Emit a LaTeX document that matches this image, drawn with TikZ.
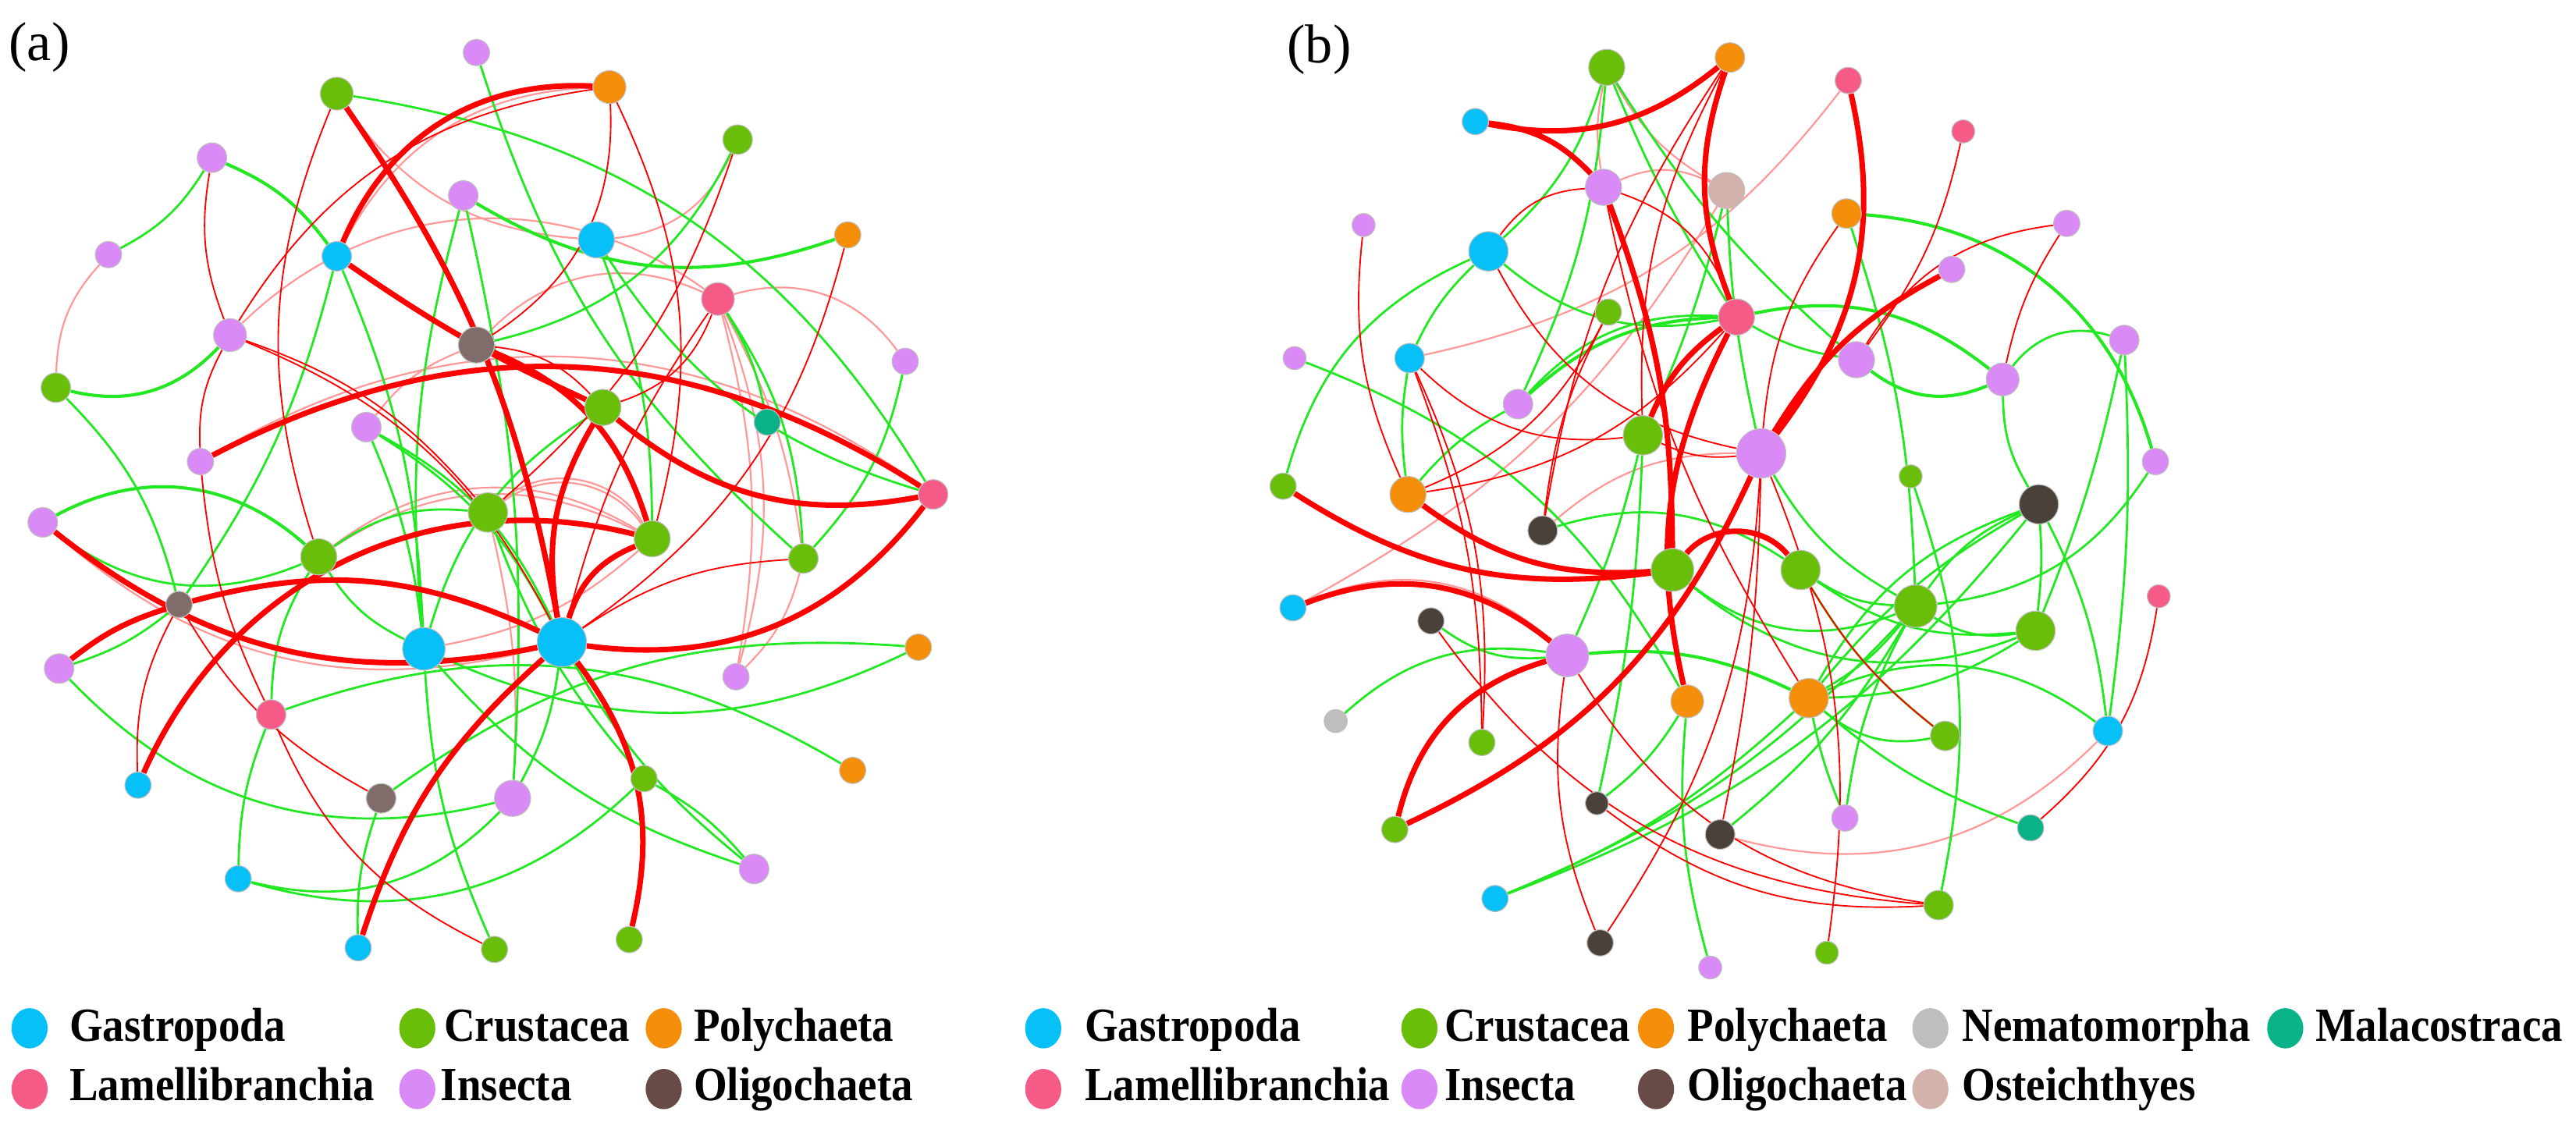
\documentclass[tikz,border=0pt]{standalone}
\usepackage{fontspec}
\setmainfont{Liberation Serif}
\newfontfamily\legfont{Liberation Serif}[FakeStretch=0.9]
\usetikzlibrary{backgrounds,shapes.geometric}
\definecolor{cGas}{RGB}{8,192,248}
\definecolor{cCru}{RGB}{104,190,8}
\definecolor{cPol}{RGB}{245,142,8}
\definecolor{cLam}{RGB}{246,90,135}
\definecolor{cIns}{RGB}{218,138,246}
\definecolor{cOliA}{RGB}{128,108,106}
\definecolor{cOliB}{RGB}{74,66,58}
\definecolor{cOliL}{RGB}{104,74,70}
\definecolor{cNem}{RGB}{190,190,190}
\definecolor{cMal}{RGB}{10,178,138}
\definecolor{cOst}{RGB}{212,178,172}
\definecolor{cRed}{RGB}{255,0,0}
\definecolor{cGrn}{RGB}{34,232,34}

\tikzset{
  nd/.style={circle, inner sep=0pt, draw=black!25, line width=0.3pt},
  gas/.style={nd, fill=cGas, minimum size=#1*0.4mm},
  cru/.style={nd, fill=cCru, minimum size=#1*0.4mm},
  pol/.style={nd, fill=cPol, minimum size=#1*0.4mm},
  lam/.style={nd, fill=cLam, minimum size=#1*0.4mm},
  ins/.style={nd, fill=cIns, minimum size=#1*0.4mm},
  olia/.style={nd, fill=cOliA, minimum size=#1*0.4mm},
  olib/.style={nd, fill=cOliB, minimum size=#1*0.4mm},
  nem/.style={nd, fill=cNem, minimum size=#1*0.4mm},
  mal/.style={nd, fill=cMal, minimum size=#1*0.4mm},
  ost/.style={nd, fill=cOst, minimum size=#1*0.4mm},
  tr/.style={draw=cRed, line width=1.9pt},
  rd/.style={draw=cRed, line width=0.5pt},
  lr/.style={draw=cRed!40, line width=0.6pt},
  gr/.style={draw=cGrn, line width=0.75pt},
  lg/.style={ellipse, inner sep=0pt, minimum width=4.4mm, minimum height=4.9mm, fill=#1},
  lbl/.style={font=\legfont\bfseries\fontsize{16.5}{19}\selectfont, inner sep=0pt, anchor=base west},
  tag/.style={font=\fontsize{19}{22}\selectfont, inner sep=0pt}
}

\begin{document}
\begin{tikzpicture}[x=0.02cm, y=-0.02cm]
\useasboundingbox (0,0) rectangle (1568,683);

\node[tag] (taga) at (24,29) {(a)};
\node[tag] (tagb) at (803,30) {(b)};

% panel (a)
\node[ins=8] (a1) at (290,32) {};
\node[cru=10] (a2) at (205,57) {};
\node[pol=10] (a3) at (371,53) {};
\node[cru=9] (a4) at (449,85) {};
\node[ins=9] (a5) at (129,96) {};
\node[ins=9] (a6) at (282,119) {};
\node[gas=9] (a7) at (205,156) {};
\node[gas=11] (a8) at (363,146) {};
\node[pol=8] (a9) at (516,143) {};
\node[ins=8] (a10) at (66,155) {};
\node[lam=10] (a11) at (437,182) {};
\node[ins=10] (a12) at (140,204) {};
\node[olia=11] (a13) at (290,210) {};
\node[ins=8] (a14) at (551,220) {};
\node[cru=9] (a15) at (34,236) {};
\node[cru=11] (a16) at (367,248) {};
\node[mal=8] (a17) at (467,257) {};
\node[ins=9] (a18) at (223,260) {};
\node[ins=8] (a19) at (122,281) {};
\node[lam=9] (a20) at (568,301) {};
\node[ins=9] (a21) at (26,318) {};
\node[cru=12] (a22) at (297,312) {};
\node[cru=11] (a23) at (397,328) {};
\node[cru=11] (a24) at (194,339) {};
\node[cru=9] (a25) at (489,340) {};
\node[olia=8] (a26) at (109,368) {};
\node[gas=13] (a27) at (258,395) {};
\node[gas=15] (a28) at (342,391) {};
\node[pol=8] (a29) at (559,394) {};
\node[ins=9] (a30) at (36,407) {};
\node[ins=8] (a31) at (448,412) {};
\node[lam=9] (a32) at (165,435) {};
\node[gas=8] (a33) at (84,478) {};
\node[olia=9] (a34) at (232,486) {};
\node[ins=11] (a35) at (312,486) {};
\node[cru=8] (a36) at (392,474) {};
\node[pol=8] (a37) at (519,469) {};
\node[gas=8] (a38) at (145,535) {};
\node[ins=9] (a39) at (459,529) {};
\node[gas=8] (a40) at (218,577) {};
\node[cru=8] (a41) at (301,578) {};
\node[cru=8] (a42) at (383,572) {};

% panel (b)
\node[cru=11] (b1) at (978,41) {};
\node[pol=9] (b2) at (1053,35) {};
\node[lam=8] (b3) at (1125,49) {};
\node[gas=8] (b4) at (898,74) {};
\node[lam=7] (b5) at (1195,80) {};
\node[ins=11] (b6) at (976,114) {};
\node[ost=11] (b7) at (1051,116) {};
\node[pol=9] (b8) at (1124,130) {};
\node[ins=7] (b9) at (830,137) {};
\node[ins=8] (b10) at (1258,136) {};
\node[gas=12] (b11) at (906,153) {};
\node[ins=8] (b12) at (1188,164) {};
\node[cru=8] (b13) at (979,190) {};
\node[lam=11] (b14) at (1057,193) {};
\node[ins=9] (b15) at (1293,207) {};
\node[ins=7] (b16) at (788,218) {};
\node[gas=9] (b17) at (858,218) {};
\node[ins=11] (b18) at (1130,219) {};
\node[ins=10] (b19) at (1219,231) {};
\node[ins=9] (b20) at (924,246) {};
\node[cru=12] (b21) at (1000,265) {};
\node[ins=15] (b22) at (1072,276) {};
\node[ins=8] (b23) at (1312,281) {};
\node[cru=8] (b24) at (781,296) {};
\node[pol=11] (b25) at (857,301) {};
\node[cru=7] (b26) at (1163,290) {};
\node[olib=12] (b27) at (1241,307) {};
\node[olib=9] (b28) at (939,323) {};
\node[cru=13] (b29) at (1018,347) {};
\node[cru=12] (b30) at (1096,347) {};
\node[cru=13] (b31) at (1166,369) {};
\node[gas=8] (b32) at (787,370) {};
\node[lam=7] (b33) at (1314,363) {};
\node[olib=8] (b34) at (871,378) {};
\node[cru=12] (b35) at (1239,384) {};
\node[ins=13] (b36) at (954,399) {};
\node[pol=10] (b37) at (1027,427) {};
\node[pol=12] (b38) at (1101,425) {};
\node[nem=7] (b39) at (813,439) {};
\node[cru=8] (b40) at (902,452) {};
\node[cru=9] (b41) at (1184,448) {};
\node[gas=9] (b42) at (1283,445) {};
\node[olib=7] (b43) at (972,489) {};
\node[olib=9] (b44) at (1047,508) {};
\node[ins=8] (b45) at (1123,498) {};
\node[mal=8] (b46) at (1236,504) {};
\node[cru=8] (b47) at (849,505) {};
\node[gas=8] (b48) at (910,547) {};
\node[cru=9] (b49) at (1180,551) {};
\node[olib=8] (b50) at (974,574) {};
\node[cru=7] (b51) at (1112,580) {};
\node[ins=7] (b52) at (1041,589) {};

\begin{scope}[on background layer]
% panel (a) links
\draw[lr] (a7) to[bend left=30] (a3);
\draw[lr] (a19) to[bend left=33] (a20);
\draw[lr] (a2) to[bend right=25] (a8);
\draw[lr] (a12) to[bend left=40] (a11);
\draw[lr] (a8) to[bend right=30] (a4);
\draw[lr] (a11) to[bend left=12] (a31);
\draw[lr] (a11) to[bend left=18] (a31);
\draw[lr] (a11) to[bend left=35] (a14);
\draw[lr] (a15) to[bend left=20] (a10);
\draw[lr] (a13) to[bend left=35] (a11);
\draw[lr] (a11) to[bend left=10] (a25);
\draw[lr] (a24) to[bend left=30] (a23);
\draw[lr] (a24) to[bend left=34] (a23);
\draw[lr] (a27) to[bend right=15] (a23);
\draw[lr] (a35) to[bend right=8] (a22);
\draw[lr] (a18) to[bend left=15] (a13);
\draw[lr] (a22) to[bend left=45] (a23);
\draw[lr] (a22) to[bend left=50] (a23);
\draw[lr] (a25) to[bend left=15] (a31);
\draw[lr] (a21) to[bend right=28] (a28);

\draw[gr] (a1) to[bend right=15] (a25);
\draw[gr] (a2) to[bend left=25] (a20);
\draw[gr] (a4) to[bend left=25] (a13);
\draw[gr, line width=1.1pt] (a5) to[bend left=15] (a7);
\draw[gr] (a10) to[bend right=15] (a5);
\draw[gr, line width=1.1pt] (a6) to[bend right=25] (a9);
\draw[gr] (a6) to[bend right=10] (a27);
\draw[gr] (a6) to[bend left=8] (a35);
\draw[gr] (a7) to[bend left=10] (a27);
\draw[gr] (a7) to[bend left=10] (a26);
\draw[gr] (a8) to[bend left=10] (a23);
\draw[gr] (a8) to[bend right=20] (a20);
\draw[gr] (a11) to[bend left=10] (a17);
\draw[gr] (a11) to[bend left=15] (a25);
\draw[gr] (a14) to[bend left=15] (a25);
\draw[gr, line width=1.1pt] (a15) to[bend right=30] (a12);
\draw[gr] (a15) to[bend left=15] (a26);
\draw[gr] (a16) to[bend right=20] (a27);
\draw[gr] (a18) to[bend left=15] (a28);
\draw[gr] (a18) to[bend left=18] (a28);
\draw[gr] (a18) to[bend left=8] (a27);
\draw[gr, line width=1.1pt] (a21) to[bend left=35] (a24);
\draw[gr] (a21) to[bend right=30] (a24);
\draw[gr] (a24) to[bend right=15] (a27);
\draw[gr] (a24) to[bend left=20] (a22);
\draw[gr] (a24) to[bend right=15] (a32);
\draw[gr] (a30) to[bend right=10] (a26);
\draw[gr] (a30) to[bend right=30] (a35);
\draw[gr] (a32) to[bend left=25] (a37);
\draw[gr] (a27) to[bend right=25] (a29);
\draw[gr] (a38) to[bend right=30] (a36);
\draw[gr] (a38) to[bend right=30] (a35);
\draw[gr] (a32) to[bend right=10] (a38);
\draw[gr] (a34) to[bend right=10] (a40);
\draw[gr] (a34) to[bend left=20] (a29);
\draw[gr] (a28) to[bend right=10] (a39);
\draw[gr] (a27) to[bend right=15] (a39);
\draw[gr] (a36) to[bend left=10] (a39);
\draw[gr] (a41) to[bend left=10] (a27);
\draw[gr] (a35) to[bend right=10] (a28);
\draw[gr] (a22) to[bend right=10] (a36);

\draw[rd] (a24) to[bend left=20] (a2);
\draw[rd] (a3) to[bend left=30] (a13);
\draw[rd] (a3) to[bend left=20] (a23);
\draw[rd] (a3) to[bend right=25] (a12);
\draw[rd] (a4) to[bend left=15] (a22);
\draw[rd] (a9) to[bend left=20] (a28);
\draw[rd] (a11) to[bend right=10] (a28);
\draw[rd] (a13) to[bend left=20] (a16);
\draw[rd] (a12) to[bend left=20] (a28);
\draw[rd] (a12) to[bend left=15] (a5);
\draw[rd] (a12) to[bend right=15] (a19);
\draw[rd] (a19) to[bend right=10] (a32);
\draw[rd] (a16) to[bend right=25] (a11);
\draw[rd] (a26) to[bend right=15] (a34);
\draw[rd] (a26) to[bend right=15] (a33);
\draw[rd] (a32) to[bend right=20] (a41);
\draw[rd] (a28) to[bend left=15] (a25);
\draw[rd] (a12) to[bend left=15] (a22);

\draw[tr] (a7) to[bend left=35] (a3);
\draw[tr] (a2) to[bend left=12] (a28);
\draw[tr] (a7) to[bend right=5] (a16);
\draw[tr] (a16) to[bend right=25] (a20);
\draw[tr] (a19) to[bend left=30] (a20);
\draw[tr] (a20) to[bend left=30] (a28);
\draw[tr] (a21) to[bend right=25] (a28);
\draw[tr] (a26) to[bend left=20] (a28);
\draw[tr] (a30) to[bend left=10] (a26);
\draw[tr] (a33) to[bend left=40] (a23);
\draw[tr] (a40) to[bend left=15] (a28);
\draw[tr] (a28) to[bend left=20] (a16);
\draw[tr] (a28) to[bend left=25] (a23);
\draw[tr] (a28) to[bend left=25] (a42);
\draw[tr] (a13) to[bend left=25] (a23);

% panel (b) links
\draw[lr] (b1) to[bend right=10] (b6);
\draw[lr] (b1) to[bend right=15] (b7);
\draw[lr] (b3) to[bend left=20] (b17);
\draw[lr] (b6) to[bend left=25] (b7);
\draw[lr] (b7) to[bend left=15] (b32);
\draw[lr] (b42) to[bend left=30] (b44);
\draw[lr] (b28) to[bend left=20] (b22);
\draw[lr] (b32) to[bend left=33] (b36);

\draw[gr] (b1) to[bend left=15] (b11);
\draw[gr] (b1) to[bend right=5] (b14);
\draw[gr] (b1) to[bend right=8] (b18);
\draw[gr] (b1) to[bend left=10] (b20);
\draw[gr] (b7) to[bend left=5] (b21);
\draw[gr] (b7) to[bend right=5] (b22);
\draw[gr, line width=1.1pt] (b8) to[bend left=35] (b23);
\draw[gr] (b8) to[bend left=8] (b31);
\draw[gr] (b11) to[bend right=25] (b24);
\draw[gr] (b11) to[bend right=10] (b17);
\draw[gr] (b11) to[bend right=25] (b14);
\draw[gr] (b16) to[bend left=20] (b37);
\draw[gr] (b17) to[bend right=8] (b25);
\draw[gr, line width=1.1pt] (b20) to[bend left=20] (b14);
\draw[gr] (b20) to[bend left=25] (b14);
\draw[gr] (b20) to[bend right=10] (b25);
\draw[gr, line width=1.1pt] (b14) to[bend left=25] (b19);
\draw[gr] (b14) to[bend right=10] (b18);
\draw[gr, line width=1.1pt] (b18) to[bend right=30] (b19);
\draw[gr] (b19) to[bend left=35] (b15);
\draw[gr] (b19) to[bend right=15] (b27);
\draw[gr] (b15) to[bend left=5] (b35);
\draw[gr] (b15) to[bend left=5] (b42);
\draw[gr] (b23) to[bend left=25] (b31);
\draw[gr] (b22) to[bend right=15] (b31);
\draw[gr] (b26) to[bend left=15] (b49);
\draw[gr] (b27) to[bend left=15] (b48);
\draw[gr] (b31) to[bend left=12] (b48);
\draw[gr] (b38) to[bend left=10] (b48);
\draw[gr] (b27) to[bend right=15] (b31);
\draw[gr] (b27) to[bend right=10] (b38);
\draw[gr] (b27) to[bend right=20] (b38);
\draw[gr] (b27) to[bend left=10] (b42);
\draw[gr] (b27) to[bend left=5] (b35);
\draw[gr] (b29) to[bend right=30] (b31);
\draw[gr] (b29) to[bend right=30] (b35);
\draw[gr] (b30) to[bend right=15] (b31);
\draw[gr] (b30) to[bend right=20] (b35);
\draw[gr] (b30) to[bend right=10] (b41);
\draw[gr] (b31) to[bend right=20] (b35);
\draw[gr] (b31) to[bend left=10] (b38);
\draw[gr] (b31) to[bend left=10] (b44);
\draw[gr] (b31) to[bend right=10] (b45);
\draw[gr] (b35) to[bend left=15] (b38);
\draw[gr, line width=1.1pt] (b36) to[bend left=15] (b38);
\draw[gr] (b36) to[bend right=25] (b39);
\draw[gr] (b34) to[bend right=20] (b36);
\draw[gr] (b28) to[bend left=25] (b30);
\draw[gr] (b38) to[bend right=25] (b41);
\draw[gr] (b38) to[bend left=30] (b42);
\draw[gr] (b38) to[bend right=5] (b45);
\draw[gr] (b38) to[bend right=10] (b46);
\draw[gr] (b37) to[bend left=10] (b43);
\draw[gr] (b37) to[bend right=10] (b52);
\draw[gr] (b21) to[bend left=5] (b36);
\draw[gr] (b21) to[bend left=5] (b43);

\draw[rd] (b2) to[bend right=15] (b21);
\draw[rd] (b2) to[bend right=12] (b28);
\draw[rd] (b5) to[bend left=12] (b18);
\draw[rd] (b6) to[bend right=25] (b11);
\draw[rd] (b6) to[bend left=25] (b14);
\draw[rd] (b6) to[bend right=10] (b38);
\draw[rd] (b8) to[bend right=15] (b22);
\draw[rd] (b10) to[bend right=25] (b18);
\draw[rd] (b10) to[bend right=10] (b19);
\draw[rd] (b9) to[bend right=15] (b25);
\draw[rd] (b11) to[bend right=25] (b22);
\draw[rd] (b17) to[bend right=25] (b21);
\draw[rd] (b17) to[bend left=10] (b40);
\draw[rd] (b17) to[bend left=14] (b40);
\draw[rd] (b25) to[bend right=20] (b14);
\draw[rd] (b21) to[bend right=15] (b22);
\draw[rd] (b22) to[bend left=5] (b44);
\draw[rd] (b22) to[bend left=15] (b50);
\draw[rd] (b22) to[bend left=15] (b51);
\draw[rd] (b36) to[bend right=15] (b50);
\draw[rd] (b36) to[bend right=25] (b49);
\draw[rd] (b34) to[bend right=25] (b49);
\draw[rd] (b43) to[bend right=20] (b49);
\draw[rd] (b33) to[bend left=20] (b46);
\draw[rd] (b30) to[bend right=10] (b41);
\draw[rd] (b13) to[bend left=20] (b25);
\draw[rd] (b13) to[bend right=10] (b28);

\draw[tr] (b2) to[bend left=25] (b4);
\draw[tr] (b4) to[bend left=20] (b6);
\draw[tr] (b6) to[bend left=10] (b29);
\draw[tr] (b14) to[bend left=20] (b2);
\draw[tr] (b3) to[bend left=25] (b22);
\draw[tr] (b22) to[bend left=15] (b12);
\draw[tr] (b47) to[bend left=30] (b36);
\draw[tr] (b22) to[bend left=20] (b47);
\draw[tr] (b29) to[bend left=50] (b30);
\draw[tr] (b29) to[bend left=20] (b24);
\draw[tr] (b29) to[bend left=20] (b25);
\draw[tr] (b32) to[bend left=30] (b36);
\draw[tr] (b37) to[bend left=20] (b14);
\draw[tr] (b21) to[bend left=15] (b14);
\end{scope}

% legend
\foreach \c/\x/\y/\tx/\ty/\t/\n in {cGas/18/626/42/634/Gastropoda/1, cCru/254/626/270/634/Crustacea/2,
    cPol/404/626/422/634/Polychaeta/3, cLam/18/663/42/670/Lamellibranchia/4, cIns/254/663/268/670/Insecta/5,
    cOliL/404/663/422/670/Oligochaeta/6, cGas/635/626/660/634/Gastropoda/7, cCru/864/626/879/634/Crustacea/8,
    cPol/1008/626/1027/634/Polychaeta/9, cNem/1175/626/1194/634/Nematomorpha/10, cMal/1391/626/1409/634/Malacostraca/11,
    cLam/635/663/660/670/Lamellibranchia/12, cIns/864/663/879/670/Insecta/13, cOliL/1008/663/1027/670/Oligochaeta/14,
    cOst/1175/663/1194/670/Osteichthyes/15}{
  \node[lg=\c] (lg\n) at (\x,\y) {};
  \node[lbl] (lt\n) at (\tx,\ty) {\t};
}
\end{tikzpicture}
\end{document}
